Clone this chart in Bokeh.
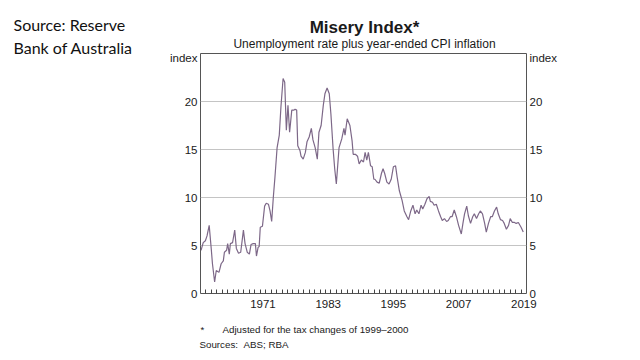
from bokeh.plotting import figure
from bokeh.models import (Range1d, LinearAxis, FixedTicker, Label, Grid,
                          CustomJSTickFormatter)
from bokeh.embed import file_html
from bokeh.resources import INLINE

# ---- data ----
years = [1960.1, 1960.5, 1960.9, 1961.2, 1961.6, 1962.0, 1962.2, 1962.6, 1962.9, 1963.4,
         1963.8, 1964.2, 1964.4, 1964.8, 1965.0, 1965.3, 1965.5, 1965.9, 1966.3, 1966.6,
         1967.0, 1967.4, 1967.9, 1968.2, 1968.6, 1969.0, 1969.3, 1969.7, 1970.1, 1970.3,
         1970.6, 1970.8, 1971.0, 1971.4, 1971.8, 1972.1, 1972.5, 1972.8, 1973.1, 1973.4,
         1973.7, 1974.1, 1974.5, 1974.8, 1975.2, 1975.5, 1975.8, 1976.1, 1976.4, 1976.8,
         1977.2, 1977.4, 1977.7, 1977.9, 1978.3, 1978.5, 1978.9, 1979.3, 1979.6, 1980.0,
         1980.4, 1980.7, 1981.1, 1981.5, 1981.8, 1982.2, 1982.6, 1982.9, 1983.3, 1983.7,
         1984.0, 1984.4, 1984.7, 1985.0, 1985.5, 1986.0, 1986.4, 1986.6, 1987.0, 1987.5,
         1987.9, 1988.1, 1988.5, 1988.9, 1989.2, 1989.6, 1990.0, 1990.3, 1990.6, 1990.9,
         1991.3, 1991.6, 1991.9, 1992.1, 1992.5, 1992.9, 1993.3, 1993.6, 1993.9, 1994.3,
         1994.7, 1995.1, 1995.5, 1995.9, 1996.2, 1996.6, 1997.1, 1997.5, 1998.0, 1998.3,
         1998.7, 1999.1, 1999.5, 1999.8, 2000.2, 2000.6, 2000.9, 2001.3, 2001.7, 2002.1,
         2002.3, 2002.7, 2003.0, 2003.4, 2003.8, 2004.2, 2004.5, 2004.9, 2005.3, 2005.6,
         2006.0, 2006.3, 2006.7, 2007.1, 2007.5, 2008.0, 2008.3, 2008.6, 2009.0, 2009.3,
         2009.7, 2010.1, 2010.4, 2010.8, 2011.2, 2011.5, 2011.9, 2012.3, 2012.6, 2013.0,
         2013.4, 2013.7, 2014.1, 2014.5, 2014.8, 2015.2, 2015.6, 2015.9, 2016.3, 2016.7,
         2017.0, 2017.4, 2017.8, 2018.1, 2018.5, 2019.0, 2019.4]
misery = [4.5, 5.3, 5.5, 6.0, 7.1, 4.5, 3.1, 1.2, 2.4, 2.2,
          3.1, 3.4, 4.3, 4.5, 5.2, 4.1, 5.2, 5.3, 6.6, 4.7,
          4.2, 4.3, 6.6, 5.2, 4.3, 4.1, 5.1, 5.2, 5.2, 3.9,
          4.8, 4.9, 6.9, 7.0, 9.1, 9.4, 9.3, 8.6, 7.5, 10.0,
          12.1, 15.2, 16.5, 19.4, 22.4, 22.0, 17.0, 19.6, 16.8, 19.1,
          19.1, 19.2, 19.1, 15.4, 14.9, 14.3, 14.0, 14.7, 15.8, 16.3,
          17.2, 16.0, 15.2, 14.0, 16.8, 17.5, 19.6, 20.8, 21.4, 20.8,
          18.7, 15.1, 13.0, 11.4, 15.2, 16.1, 17.2, 16.5, 18.2, 17.5,
          15.9, 14.5, 14.5, 14.3, 13.5, 13.9, 13.7, 14.7, 13.9, 14.7,
          13.3, 13.2, 11.9, 11.9, 11.6, 11.5, 12.5, 13.0, 12.5, 11.6,
          11.4, 11.9, 13.2, 13.3, 12.1, 10.7, 9.7, 8.6, 8.0, 7.7,
          8.6, 9.2, 8.3, 8.7, 8.3, 9.2, 8.8, 9.3, 9.9, 10.1,
          9.6, 9.5, 9.2, 9.3, 8.6, 8.0, 7.6, 7.8, 7.5, 7.6,
          8.0, 8.0, 8.7, 8.0, 7.1, 6.2, 7.3, 8.3, 9.1, 8.1,
          7.3, 8.0, 8.3, 7.8, 8.3, 8.6, 8.3, 7.3, 6.4, 7.3,
          8.0, 8.0, 8.6, 9.0, 8.3, 7.7, 7.6, 7.3, 6.7, 7.1,
          7.8, 7.4, 7.4, 7.3, 7.4, 6.9, 6.4]

year_labels = [1971, 1983, 1995, 2007, 2019]
y_ticks = [0, 5, 10, 15, 20]
y_unit_pos = 24.5
y_unit_label = "index"
grid_ticks = [5, 10, 15, 20]
year_minor = list(range(1961, 2020))

AX_FONT = "Liberation Sans"
TXT = "#1a1a1a"

p = figure(width=640, height=360, output_backend="svg", toolbar_location=None,
           x_range=Range1d(1960, 2020), y_range=Range1d(0, 25),
           x_axis_location=None, y_axis_location=None,
           min_border_left=200, min_border_right=114,
           min_border_top=53, min_border_bottom=67,
           background_fill_color="white", border_fill_color="white")

p.outline_line_color = "#555555"
p.outline_line_width = 1
p.outline_line_alpha = 1.0

for r in list(p.center):
    if isinstance(r, Grid):
        r.visible = False

overrides = {float(t): str(t) for t in y_ticks}
overrides[y_unit_pos] = y_unit_label

def style_y_axis(ax):
    ax.ticker = FixedTicker(ticks=[float(t) for t in y_ticks] + [y_unit_pos])
    ax.major_label_overrides = overrides
    ax.axis_line_color = None
    ax.major_tick_in = 0
    ax.major_tick_out = 0
    ax.minor_tick_line_color = None
    ax.major_label_standoff = 3
    ax.major_label_text_font = AX_FONT
    ax.major_label_text_font_size = "11.5px"
    ax.major_label_text_color = TXT

yl = LinearAxis()
style_y_axis(yl)
p.add_layout(yl, "left")
yr = LinearAxis()
style_y_axis(yr)
yr.major_label_standoff = 3
p.add_layout(yr, "right")

xb = LinearAxis(ticker=FixedTicker(ticks=[y + 0.5 for y in year_labels], minor_ticks=year_minor),
                formatter=CustomJSTickFormatter(code="return String(Math.floor(tick))"))
xb.axis_line_color = None
xb.major_tick_in = 0
xb.major_tick_out = 0
xb.minor_tick_in = 4
xb.minor_tick_out = 0
xb.minor_tick_line_color = "#444444"
xb.major_label_standoff = 6
xb.major_label_text_font = AX_FONT
xb.major_label_text_font_size = "11.5px"
xb.major_label_text_color = TXT
p.add_layout(xb, "below")

grid = Grid(dimension=1, ticker=FixedTicker(ticks=grid_ticks),
            grid_line_color="#c4c4c4", grid_line_width=1)
p.add_layout(grid)

p.line(years, misery, line_color="#7d6888", line_width=1.2)

def lab(text, x, y, size, place, font=AX_FONT, align="left", bold=False,
        color=TXT, baseline="alphabetic", lh=1.2):
    p.add_layout(Label(x=x, y=y, x_units="canvas", y_units="canvas", text=text,
                       text_font=font, text_font_size=size, text_align=align,
                       text_baseline=baseline, text_color=color, text_line_height=lh,
                       text_font_style="bold" if bold else "normal"), place)

lab("Source: Reserve\nBank of Australia", 13, 14, "16px", "left", font="Lato",
    color="#111111", baseline="top", lh=1.22)
lab("Misery Index*", 364, 27, "17px", "above", align="center", bold=True)
lab("Unemployment rate plus year-ended CPI inflation", 364, 43, "12px", "above", align="center")
lab("*", 200, 329, "9.75px", "right")
lab("Sources:", 199, 344, "9.75px", "right")
lab("Adjusted for the tax changes of 1999\u20132000", 222, 329, "9.75px", "below")
lab("ABS; RBA", 243, 344, "9.75px", "below")

open("out.html", "w").write(file_html(p, INLINE))
